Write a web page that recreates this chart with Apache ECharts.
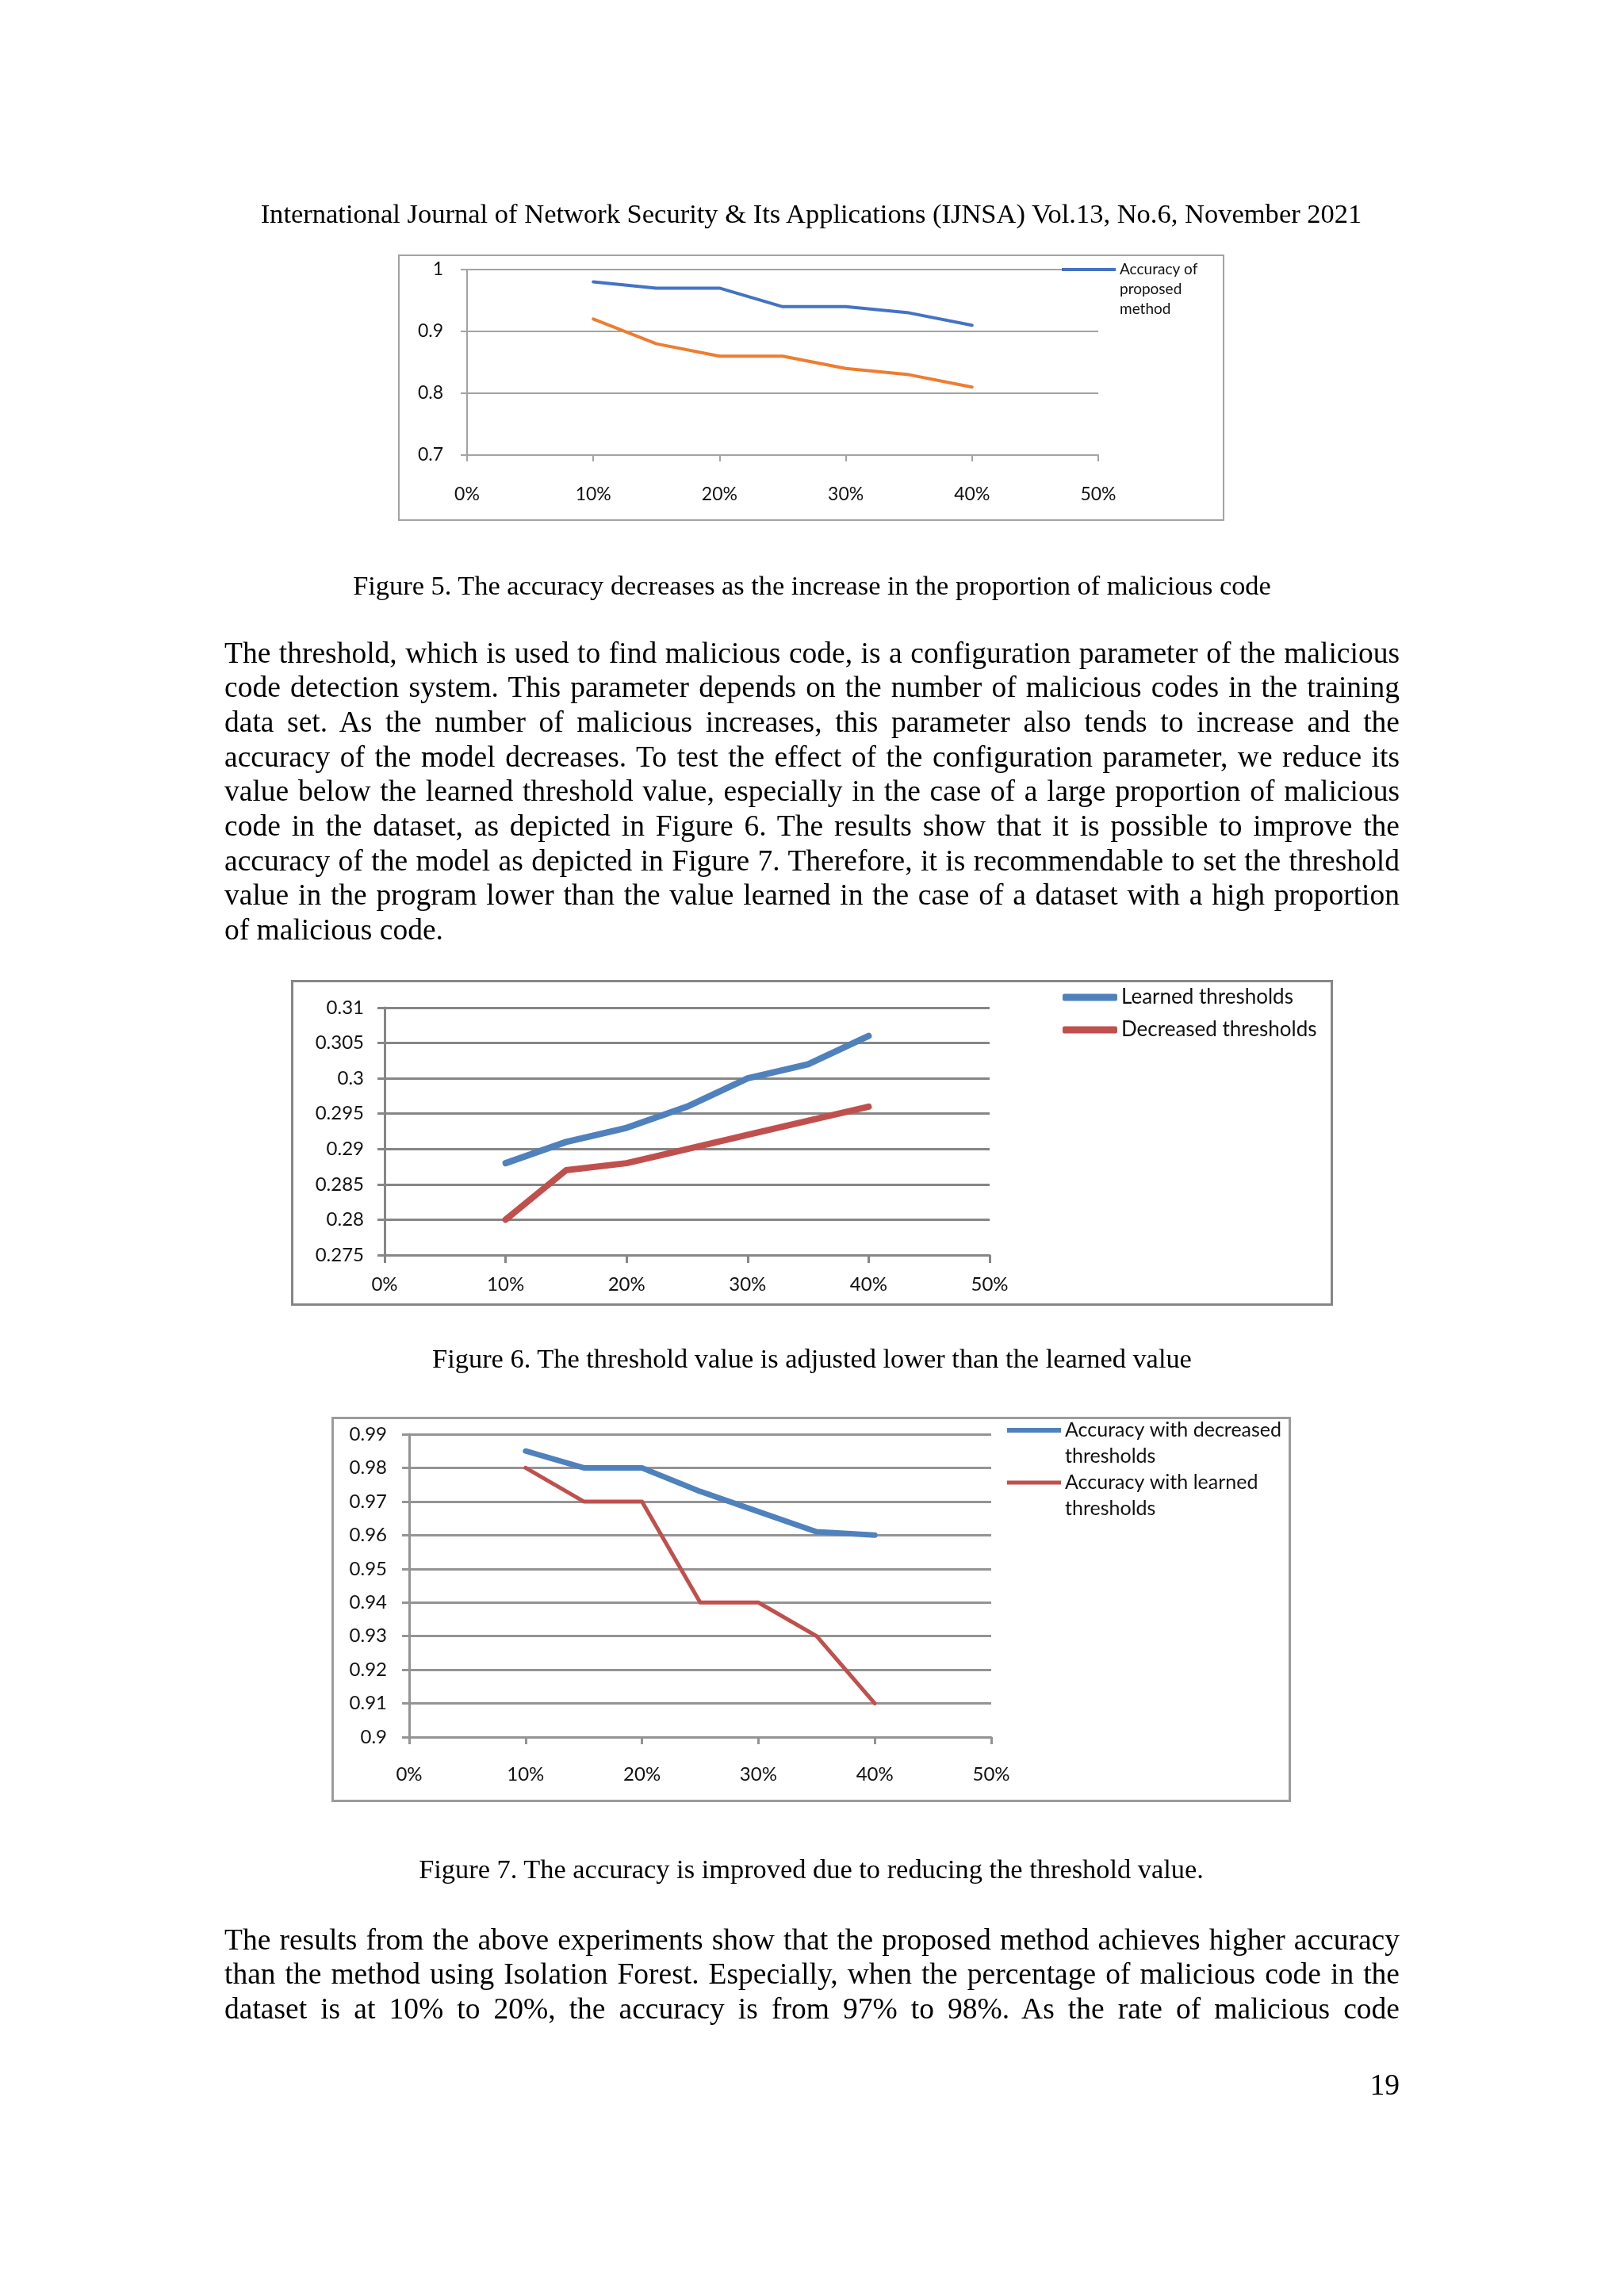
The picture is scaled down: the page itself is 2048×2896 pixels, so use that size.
<!DOCTYPE html>
<html><head><meta charset="utf-8">
<script src="https://cdn.jsdelivr.net/npm/echarts@6/dist/echarts.min.js"></script>
<style>
html,body{margin:0;padding:0;background:#fff;}
#page{position:relative;width:2048px;height:2896px;overflow:hidden;background:#fff;}
.t{position:absolute;font-family:"Liberation Serif","Times New Roman",serif;color:#000;white-space:nowrap;}
.box{position:absolute;box-sizing:border-box;}
#chart{position:absolute;left:0;top:0;width:2048px;height:2896px;}
</style></head>
<body><div id="page">
<div class="box" style="left:502px;top:321px;width:1042px;height:336px;border:2px solid #a3a3a3;"></div>
<div class="box" style="left:367px;top:1236px;width:1314px;height:411px;border:3px solid #868686;"></div>
<div class="box" style="left:418px;top:1787px;width:1210px;height:486px;border:3px solid #9c9c9c;"></div>
<div id="chart"></div>
</div>
<script>
// ---------- data ----------
const xShare = [0.10, 0.15, 0.20, 0.25, 0.30, 0.35, 0.40];
const fig5Proposed = [0.98, 0.97, 0.97, 0.94, 0.94, 0.93, 0.91];
const fig5Other    = [0.92, 0.88, 0.86, 0.86, 0.84, 0.83, 0.81];
const fig6Learned   = [0.288, 0.291, 0.293, 0.296, 0.300, 0.302, 0.306];
const fig6Decreased = [0.280, 0.287, 0.288, 0.290, 0.292, 0.294, 0.296];
const fig7Decreased = [0.985, 0.980, 0.980, 0.973, 0.967, 0.961, 0.960];
const fig7Learned   = [0.980, 0.970, 0.970, 0.940, 0.940, 0.930, 0.910];

const fig5Names = ['Accuracy of proposed method', 'Isolation Forest method'];
const fig5LegendLines = [['Accuracy of', 'proposed', 'method']];
const fig6Names = ['Learned thresholds', 'Decreased thresholds'];
const fig7Names = ['Accuracy with decreased thresholds', 'Accuracy with learned thresholds'];
const fig7LegendLines = [['Accuracy with decreased', 'thresholds'], ['Accuracy with learned', 'thresholds']];

// ---------- page text ----------
const headerText = 'International Journal of Network Security & Its Applications (IJNSA) Vol.13, No.6, November 2021';
const captions = [
  'Figure 5. The accuracy decreases as the increase in the proportion of malicious code',
  'Figure 6. The threshold value is adjusted lower than the learned value',
  'Figure 7. The accuracy is improved due to reducing the threshold value.'
];
const para1 = [
  'The threshold, which is used to find malicious code, is a configuration parameter of the malicious',
  'code detection system. This parameter depends on the number of malicious codes in the training',
  'data set. As the number of malicious increases, this parameter also tends to increase and the',
  'accuracy of the model decreases. To test the effect of the configuration parameter, we reduce its',
  'value below the learned threshold value, especially in the case of a large proportion of malicious',
  'code in the dataset, as depicted in Figure 6. The results show that it is possible to improve the',
  'accuracy of the model as depicted in Figure 7. Therefore, it is recommendable to set the threshold',
  'value in the program lower than the value learned in the case of a dataset with a high proportion',
  'of malicious code.'
];
const para2 = [
  'The results from the above experiments show that the proposed method achieves higher accuracy',
  'than the method using Isolation Forest. Especially, when the percentage of malicious code in the',
  'dataset is at 10% to 20%, the accuracy is from 97% to 98%. As the rate of malicious code'
];
const pageNumber = '19';

const page = document.getElementById('page');
const BODY_FS = 37.5;
const VOFF = 0.56;
function measure(text, fs) {
  const s = document.createElement('span');
  s.className = 't';
  s.style.fontSize = fs + 'px';
  s.style.visibility = 'hidden';
  s.textContent = text;
  page.appendChild(s);
  const w = s.getBoundingClientRect().width;
  page.removeChild(s);
  return w;
}
function placeCentered(text, cx, cy, targetW) {
  let fs = BODY_FS * targetW / measure(text, BODY_FS);
  fs = Math.max(32, Math.min(42, fs));
  const w = measure(text, fs);
  const d = document.createElement('div');
  d.className = 't';
  d.style.fontSize = fs + 'px';
  d.style.lineHeight = (fs * 1.2) + 'px';
  d.style.left = (cx - w / 2) + 'px';
  d.style.top = (cy - VOFF * fs) + 'px';
  d.textContent = text;
  page.appendChild(d);
}
function placeLine(text, left, width, cy, justify) {
  let fs = BODY_FS;
  const nat = measure(text, fs);
  if (nat > width) fs = fs * width / nat * 0.998;
  const d = document.createElement('div');
  d.className = 't';
  d.style.fontSize = fs + 'px';
  d.style.lineHeight = (fs * 1.2) + 'px';
  d.style.left = left + 'px';
  d.style.width = width + 'px';
  d.style.top = (cy - VOFF * fs) + 'px';
  d.style.whiteSpace = 'normal';
  d.style.textAlign = justify ? 'justify' : 'left';
  d.style.textAlignLast = justify ? 'justify' : 'left';
  d.textContent = text;
  page.appendChild(d);
}
placeCentered(headerText, 1023, 268, 1389);
placeCentered(captions[0], 1024, 737, 1158);
placeCentered(captions[1], 1024, 1712, 958);
placeCentered(captions[2], 1023, 2356, 990);
const p1y = [822, 864.5, 908.5, 953, 995.5, 1039.5, 1084, 1126.5, 1171];
para1.forEach((t, i) => placeLine(t, 283, 1482, p1y[i], i < para1.length - 1));
const p2y = [2445, 2487.5, 2532];
para2.forEach((t, i) => placeLine(t, 283, 1482, p2y[i], true));
(function () {
  const w = measure(pageNumber, BODY_FS);
  const d = document.createElement('div');
  d.className = 't';
  d.style.fontSize = BODY_FS + 'px';
  d.style.lineHeight = (BODY_FS * 1.2) + 'px';
  d.style.left = (1765 - w) + 'px';
  d.style.top = (2628 - VOFF * BODY_FS) + 'px';
  d.textContent = pageNumber;
  page.appendChild(d);
})();

// ---------- chart ----------
const pairs = (ys) => xShare.map((x, i) => [x, ys[i]]);
// legend text whose first line sits level with the legend line:
// pad with (n-1) blank lines above so the centred block puts line 1 at the icon
const firstLineAligned = (lines) => Array(lines.length - 1).fill(' ').concat(lines).join('\n');
const FONT = 'Lato';
function mkX(gi, margin, fs, color, w, tickLen) {
  return {
    type: 'value', gridIndex: gi, min: 0, max: 0.5, interval: 0.1,
    axisLine: { show: true, onZero: false, lineStyle: { color: color, width: w } },
    axisTick: { show: true, length: tickLen, lineStyle: { color: color, width: w } },
    splitLine: { show: false },
    axisLabel: { margin: margin, fontSize: fs, fontFamily: FONT, color: '#111',
      formatter: v => Math.round(v * 100) + '%' }
  };
}
function mkY(gi, min, max, interval, margin, fs, color, w, tickLen) {
  return {
    type: 'value', gridIndex: gi, min: min, max: max, interval: interval,
    axisLine: { show: true, lineStyle: { color: color, width: w } },
    axisTick: { show: true, length: tickLen, lineStyle: { color: color, width: w } },
    splitLine: { show: true, lineStyle: { color: color, width: w } },
    axisLabel: { margin: margin, fontSize: fs, fontFamily: FONT, color: '#111' }
  };
}
function mkLine(name, gi, ys, color, width) {
  return {
    name: name, type: 'line', xAxisIndex: gi, yAxisIndex: gi, data: pairs(ys),
    symbol: 'none', silent: true, animation: false,
    lineStyle: { color: color, width: width, cap: 'round', join: 'round' },
    itemStyle: { color: color }
  };
}
const BLUE5 = '#4472C4', ORANGE5 = '#ED7D31', BLUE = '#4F81BD', RED = '#C0504D';

const chart = echarts.init(document.getElementById('chart'), null, { renderer: 'canvas' });
chart.setOption({
  animation: false,
  backgroundColor: 'transparent',
  grid: [
    { left: 589, top: 340, width: 796, height: 234 },
    { left: 485, top: 1271, width: 763, height: 312 },
    { left: 516, top: 1809, width: 734, height: 382 }
  ],
  xAxis: [
    mkX(0, 38, 23, '#a3a3a3', 2, 8),
    mkX(1, 25, 24, '#868686', 3, 10),
    mkX(2, 35, 24, '#949494', 3, 9)
  ],
  yAxis: [
    mkY(0, 0.7, 1, 0.1, 30, 23, '#a3a3a3', 2, 8),
    mkY(1, 0.275, 0.31, 0.005, 26, 24, '#868686', 3, 9),
    mkY(2, 0.9, 0.99, 0.01, 28, 24, '#949494', 3, 9)
  ],
  legend: [
    { data: [fig5Names[0]], left: 1339, top: 340 - 5 * 25 / 2, padding: 0, selectedMode: false,
      icon: 'rect', itemWidth: 68, itemHeight: 4,
      formatter: () => firstLineAligned(fig5LegendLines[0]),
      textStyle: { fontFamily: FONT, fontSize: 19, lineHeight: 25, color: '#111' } },
    { data: fig6Names, orient: 'vertical', left: 1340, top: 1243, padding: 0, itemGap: 11,
      selectedMode: false, icon: 'roundRect', itemWidth: 69, itemHeight: 9,
      textStyle: { fontFamily: FONT, fontSize: 26, lineHeight: 30, color: '#111' } },
    { data: [fig7Names[0]], left: 1270, top: 1804 - 3 * 33 / 2, padding: 0, selectedMode: false,
      icon: 'rect', itemWidth: 68, itemHeight: 6,
      formatter: () => firstLineAligned(fig7LegendLines[0]),
      textStyle: { fontFamily: FONT, fontSize: 25, lineHeight: 33, color: '#111' } },
    { data: [fig7Names[1]], left: 1270, top: 1870 - 3 * 33 / 2, padding: 0, selectedMode: false,
      icon: 'rect', itemWidth: 68, itemHeight: 5,
      formatter: () => firstLineAligned(fig7LegendLines[1]),
      textStyle: { fontFamily: FONT, fontSize: 25, lineHeight: 33, color: '#111' } }
  ],
  series: [
    mkLine(fig5Names[0], 0, fig5Proposed, BLUE5, 4),
    mkLine(fig5Names[1], 0, fig5Other, ORANGE5, 4),
    mkLine(fig6Names[0], 1, fig6Learned, BLUE, 8),
    mkLine(fig6Names[1], 1, fig6Decreased, RED, 8),
    mkLine(fig7Names[0], 2, fig7Decreased, BLUE, 7),
    mkLine(fig7Names[1], 2, fig7Learned, RED, 5)
  ]
});
</script>
</body></html>
